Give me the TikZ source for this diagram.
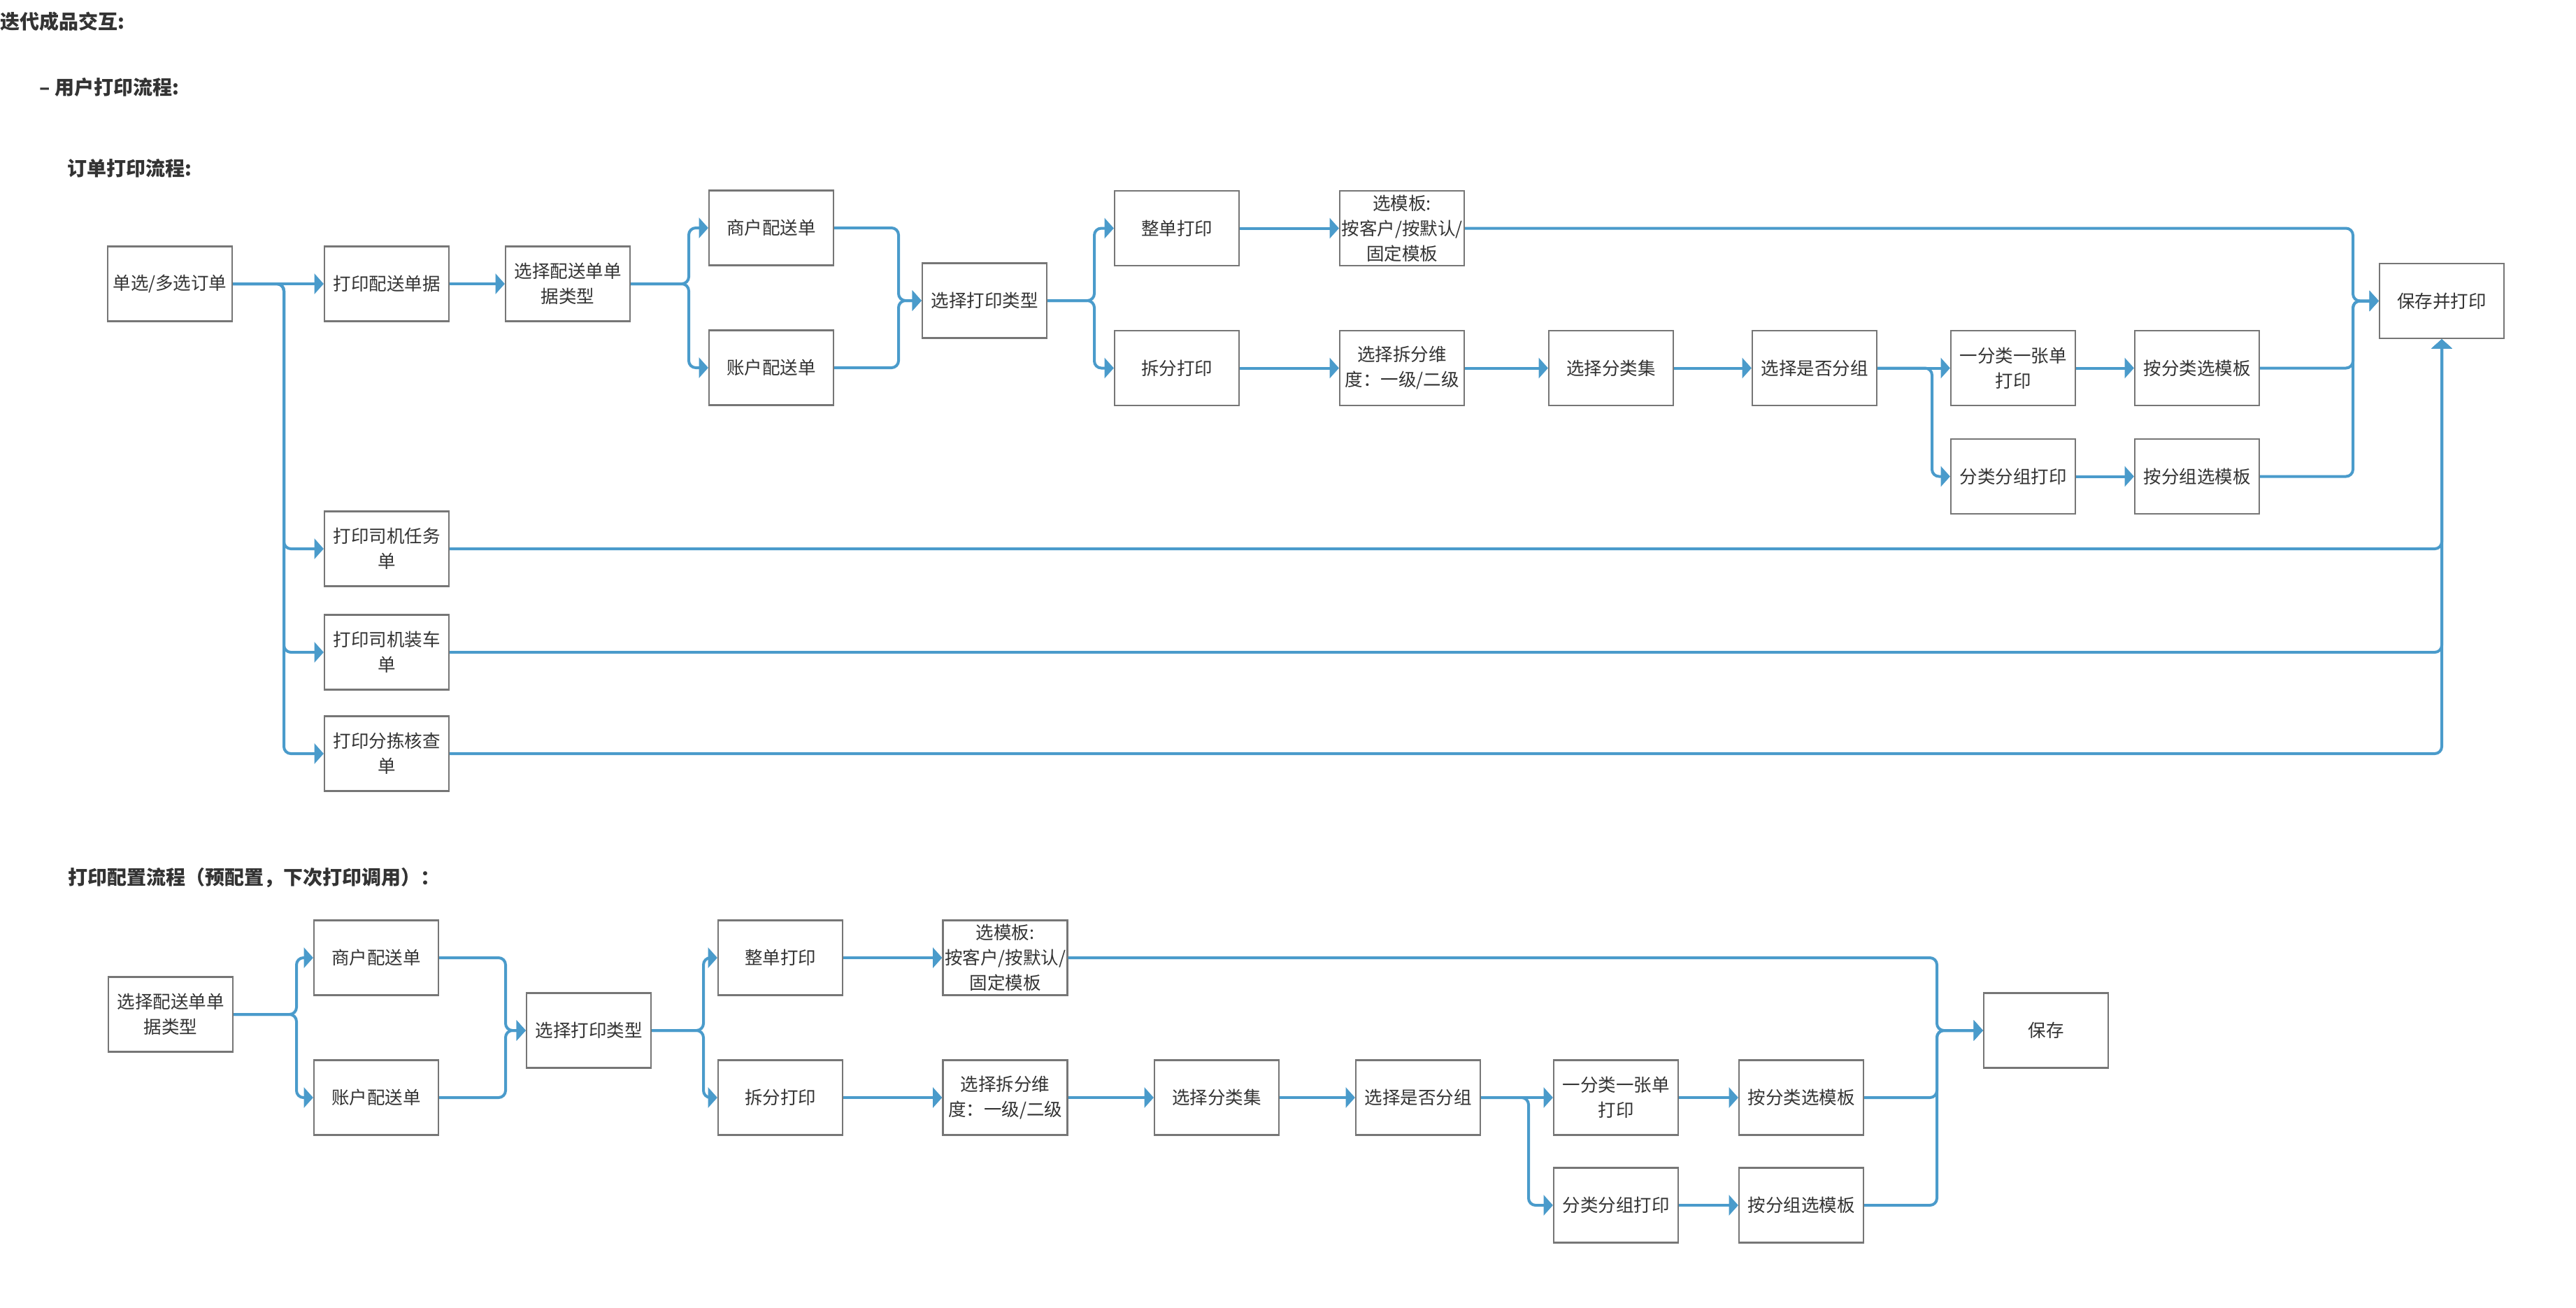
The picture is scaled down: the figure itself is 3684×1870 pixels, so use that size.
\documentclass[tikz,border=0pt]{standalone}
\usepackage{fontspec}
\setmainfont{Noto Sans CJK SC}
\usetikzlibrary{arrows.meta, positioning}
\definecolor{flowblue}{RGB}{74,155,203}
\definecolor{boxgray}{RGB}{118,118,118}
\definecolor{txtgray}{RGB}{51,51,51}

\begin{document}
\begin{tikzpicture}[x=0.5pt, y=-0.5pt, on grid,
    every node/.style={text=txtgray},
    flow/.style={draw=flowblue, line width=2pt, rounded corners=5pt,
      -{Triangle[length=6.7pt,width=14.5pt]}}]
  \tikzstyle{boxP}=[rectangle, draw=boxgray, line width=1.1pt, fill=white, minimum width=89pt, minimum height=53.5pt, inner sep=0pt, align=center, font=\fontsize{12.75pt}{18pt}\selectfont]
  \tikzstyle{headline}=[anchor=west, inner sep=0pt, font=\fontsize{14pt}{16pt}\selectfont\bfseries]

  \path[use as bounding box, fill=white] (0,0) rectangle (3684,1870);

  % Titles
  \node[headline] (t_main)  at (0,31)    {迭代成品交互:};
  \node[headline] (t_user)  at (56,125)  {– 用户打印流程:};
  \node[headline] (t_order) at (96,241)  {订单打印流程:};
  \node[headline] (t_cfg)   at (97,1256) {打印配置流程（预配置，下次打印调用）：};

  % Order print flow
  \node[boxP] (u_sel)   at (243,406) {单选/多选订单};
  \node[boxP] (u_ps)    [right=155pt of u_sel] {打印配送单据};
  \node[boxP] (u_type)  [right=129.5pt of u_ps] {选择配送单单\\据类型};
  \node[boxP] (u_shop)  [above right=40pt and 145.5pt of u_type] {商户配送单};
  \node[boxP] (u_acct)  [below=100pt of u_shop] {账户配送单};
  \node[boxP] (u_mode)  [below right=12pt and 298pt of u_type] {选择打印类型};
  \node[boxP] (u_whole) [above right=51.75pt and 137.5pt of u_mode] {整单打印};
  \node[boxP] (u_tpl)   [right=161pt of u_whole] {选模板:\\按客户/按默认/\\固定模板};
  \node[boxP] (u_split) [below=100pt of u_whole] {拆分打印};
  \node[boxP] (u_dim)   [right=161pt of u_split] {选择拆分维\\度：一级/二级};
  \node[boxP] (u_cat)   [right=149.5pt of u_dim] {选择分类集};
  \node[boxP] (u_grp)   [right=145.5pt of u_cat] {选择是否分组};
  \node[boxP] (u_one)   [right=142pt of u_grp] {一分类一张单\\打印};
  \node[boxP] (u_tcat)  [right=131.5pt of u_one] {按分类选模板};
  \node[boxP] (u_pgrp)  [below=77.5pt of u_one] {分类分组打印};
  \node[boxP] (u_tgrp)  [right=131.5pt of u_pgrp] {按分组选模板};
  \node[boxP] (u_save)  [above right=48pt and 175pt of u_tcat] {保存并打印};
  \node[boxP] (u_drv)   [below=189.5pt of u_ps] {打印司机任务\\单};
  \node[boxP] (u_load)  [below=74pt of u_drv] {打印司机装车\\单};
  \node[boxP] (u_chk)   [below=72.5pt of u_load] {打印分拣核查\\单};

  \coordinate (u_j1) at (406,0);
  \coordinate (u_j2) at (985,0);
  \coordinate (u_j3) at (1285,0);
  \coordinate (u_j4) at (1565,0);
  \coordinate (u_j5) at (2763,0);
  \coordinate (u_j6) at (3365,0);

  \draw[flow] (u_sel) -- (u_ps);
  \foreach \n in {u_drv,u_load,u_chk}
    \draw[flow] (u_sel.east) -- (u_sel.east -| u_j1) |- (\n.west);
  \draw[flow] (u_ps) -- (u_type);
  \foreach \n in {u_shop,u_acct} {
    \draw[flow] (u_type.east) -- (u_type.east -| u_j2) |- (\n.west);
    \draw[flow] (\n.east) -- (\n.east -| u_j3) |- (u_mode.west);
  }
  \foreach \n in {u_whole,u_split}
    \draw[flow] (u_mode.east) -- (u_mode.east -| u_j4) |- (\n.west);
  \draw[flow] (u_whole) -- (u_tpl);
  \draw[flow] (u_split) -- (u_dim);
  \draw[flow] (u_dim) -- (u_cat);
  \draw[flow] (u_cat) -- (u_grp);
  \draw[flow] (u_grp) -- (u_one);
  \draw[flow] (u_grp.east) -- (u_grp.east -| u_j5) |- (u_pgrp.west);
  \draw[flow] (u_one) -- (u_tcat);
  \draw[flow] (u_pgrp) -- (u_tgrp);
  \foreach \n in {u_tpl,u_tcat,u_tgrp}
    \draw[flow] (\n.east) -- (\n.east -| u_j6) |- (u_save.west);
  \foreach \n in {u_drv,u_load,u_chk}
    \draw[flow] (\n.east) -| (u_save.south);

  % Print config flow
  \node[boxP] (c_type)  at (244,1451) {选择配送单单\\据类型};
  \node[boxP] (c_shop)  [above right=40.5pt and 147pt of c_type] {商户配送单};
  \node[boxP] (c_acct)  [below=100pt of c_shop] {账户配送单};
  \node[boxP] (c_mode)  [below right=52pt and 152pt of c_shop] {选择打印类型};
  \node[boxP] (c_whole) [above right=52pt and 137pt of c_mode] {整单打印};
  \node[boxP] (c_tpl)   [right=160.75pt of c_whole] {选模板:\\按客户/按默认/\\固定模板};
  \node[boxP] (c_split) [below=100pt of c_whole] {拆分打印};
  \node[boxP] (c_dim)   [right=160.75pt of c_split] {选择拆分维\\度：一级/二级};
  \node[boxP] (c_cat)   [right=151.25pt of c_dim] {选择分类集};
  \node[boxP] (c_grp)   [right=144pt of c_cat] {选择是否分组};
  \node[boxP] (c_one)   [right=141.5pt of c_grp] {一分类一张单\\打印};
  \node[boxP] (c_tcat)  [right=132.5pt of c_one] {按分类选模板};
  \node[boxP] (c_pgrp)  [below=77pt of c_one] {分类分组打印};
  \node[boxP] (c_tgrp)  [right=132.5pt of c_pgrp] {按分组选模板};
  \node[boxP] (c_save)  [above right=48pt and 175pt of c_tcat] {保存};

  \coordinate (c_j1) at (424,0);
  \coordinate (c_j2) at (723,0);
  \coordinate (c_j3) at (1006,0);
  \coordinate (c_j4) at (2186,0);
  \coordinate (c_j5) at (2770,0);

  \foreach \n in {c_shop,c_acct} {
    \draw[flow] (c_type.east) -- (c_type.east -| c_j1) |- (\n.west);
    \draw[flow] (\n.east) -- (\n.east -| c_j2) |- (c_mode.west);
  }
  \foreach \n in {c_whole,c_split}
    \draw[flow] (c_mode.east) -- (c_mode.east -| c_j3) |- (\n.west);
  \draw[flow] (c_whole) -- (c_tpl);
  \draw[flow] (c_split) -- (c_dim);
  \draw[flow] (c_dim) -- (c_cat);
  \draw[flow] (c_cat) -- (c_grp);
  \draw[flow] (c_grp) -- (c_one);
  \draw[flow] (c_grp.east) -- (c_grp.east -| c_j4) |- (c_pgrp.west);
  \draw[flow] (c_one) -- (c_tcat);
  \draw[flow] (c_pgrp) -- (c_tgrp);
  \foreach \n in {c_tpl,c_tcat,c_tgrp}
    \draw[flow] (\n.east) -- (\n.east -| c_j5) |- (c_save.west);
\end{tikzpicture}
\end{document}
